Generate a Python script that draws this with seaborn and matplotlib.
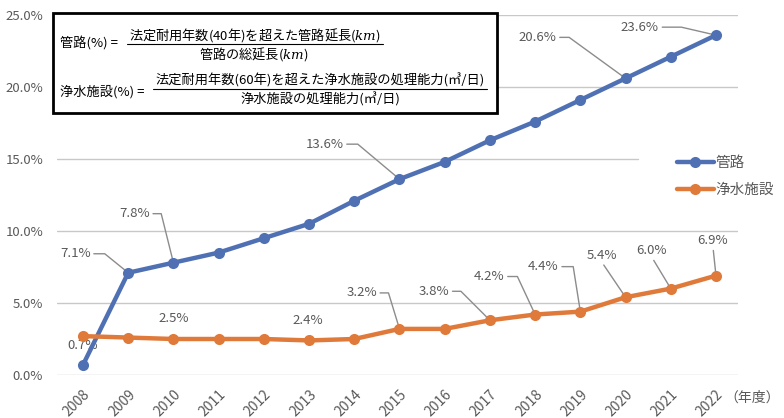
import numpy as np
import pandas as pd
import matplotlib.pyplot as plt
import seaborn as sns
from matplotlib.patches import Rectangle
from matplotlib.lines import Line2D

years = list(range(2008, 2023))
pipe = [0.7, 7.1, 7.8, 8.5, 9.5, 10.5, 12.1, 13.6, 14.8, 16.3, 17.6, 19.1, 20.6, 22.1, 23.6]
plant = [2.7, 2.6, 2.5, 2.5, 2.5, 2.4, 2.5, 3.2, 3.2, 3.8, 4.2, 4.4, 5.4, 6.0, 6.9]
series_names = ['管路', '浄水施設']
y_ticks = [0, 5, 10, 15, 20, 25]

# label placement: year -> (dx px, dy px, leader)  leader: None / angle of diagonal / 'v'
pipe_labels = {2008: (0, 19, None), 2009: (-53, 19, 141), 2010: (-39, 49, 104),
               2015: (-75, 35, 140), 2020: (-88, 41, 144), 2022: (-76, 8, 167)}
plant_labels = {2010: (0, 20, None), 2013: (-1, 20, None), 2015: (-38, 36, 107),
                2017: (-56, 29, 135), 2018: (-46, 38, 115), 2019: (-37, 45, 99),
                2020: (-24, 42, 'v'), 2021: (-19, 38, 'v'), 2022: (-3, 35, 'v')}

colors = {'管路': '#4F71B4', '浄水施設': '#E07A3A'}
gray = '#595959'
grid_c = '#C8C8C8'

sns.set_style('white')
plt.rcParams['font.family'] = ['Noto Sans CJK JP', 'DejaVu Sans']
plt.rcParams['mathtext.fontset'] = 'dejavuserif'

df = pd.DataFrame({'年度': years * 2,
                   '割合': pipe + plant,
                   '区分': [series_names[0]] * len(years) + [series_names[1]] * len(years)})

fig = plt.figure(figsize=(7.84, 4.18), dpi=100)
ax = fig.add_axes([57 / 784, 1 - 375 / 418, 681 / 784, 360 / 418])

# gridlines (15% line is cut short behind the legend)
for t in y_ticks:
    ax.axhline(t, xmax=0.853 if t == 15 else 1, color=grid_c, lw=1, zorder=0)

sns.lineplot(data=df, x='年度', y='割合', hue='区分', hue_order=series_names,
             palette=colors, marker='o', markersize=8, markeredgewidth=0,
             linewidth=3.2, legend=False, ax=ax, zorder=3)

ax.set_xlim(2007.425, 2022.487)
ax.set_ylim(0, 25)
ax.set_xticks(years)
ax.set_xticklabels([str(y) for y in years], rotation=45, ha='right',
                   rotation_mode='anchor', color=gray, fontsize=10)
ax.set_yticks(y_ticks)
ax.set_yticklabels([f'{t:.1f}%' for t in y_ticks], color=gray, fontsize=9.5)
ax.tick_params(axis='y', length=0, pad=10)
ax.tick_params(axis='x', length=0, pad=9)
ax.set_xlabel('')
ax.set_ylabel('')
for s in ax.spines.values():
    s.set_visible(False)


def add_labels(values, labels):
    for yr, (dx, dy, lead) in labels.items():
        v = values[years.index(yr)]
        arrow = None
        if lead == 'v':
            arrow = dict(arrowstyle='-', color='#8C8C8C', lw=1, relpos=(0.5, 0),
                         shrinkA=0, shrinkB=1)
        elif lead is not None:
            arrow = dict(arrowstyle='-', color='#8C8C8C', lw=1, relpos=(1, 0.5),
                         connectionstyle=f'angle,angleA=0,angleB={lead},rad=0',
                         shrinkA=0, shrinkB=1)
        ax.annotate(f'{v:.1f}%', xy=(yr, v), xytext=(dx, dy), textcoords='offset pixels',
                    ha='center', va='center', fontsize=9.5, color=gray,
                    arrowprops=arrow, zorder=2)


add_labels(pipe, pipe_labels)
add_labels(plant, plant_labels)

handles = [Line2D([], [], color=colors[n], lw=3.2, marker='o', markersize=8,
                  markeredgewidth=0) for n in series_names]
leg = fig.legend(handles, series_names, loc='upper left', bbox_to_anchor=(664 / 784, 1 - 143 / 418),
                 frameon=False, fontsize=10.5, handlelength=2.5, handletextpad=0.1,
                 labelspacing=0.9, labelcolor=gray)

fig.text(752 / 784, 1 - 398 / 418, '（年度）', ha='center', va='center', fontsize=10, color=gray)

# formula box
fig.add_artist(Rectangle((53 / 784, 1 - 113 / 418), 444 / 784, 100 / 418,
                         transform=fig.transFigure, facecolor='white',
                         edgecolor='black', lw=2, zorder=10))


def fx(x):
    return x / 784


def fy(y):
    return 1 - y / 418


kw = dict(fontsize=9.5, color='black', va='center', zorder=11)
fig.text(fx(60), fy(44), '管路(%) =', ha='left', **kw)
fig.text(fx(255), fy(35), '法定耐用年数(40年)を超えた管路延長($km$)', ha='center', **kw)
fig.add_artist(Line2D([fx(127), fx(383)], [fy(44), fy(44)], transform=fig.transFigure,
                      color='black', lw=0.8, zorder=11))
fig.text(fx(254), fy(54), '管路の総延長($km$)', ha='center', **kw)

fig.text(fx(60), fy(92), '浄水施設(%) =', ha='left', **kw)
fig.text(fx(320), fy(80), '法定耐用年数(60年)を超えた浄水施設の処理能力(㎥/日)', ha='center', **kw)
fig.add_artist(Line2D([fx(153), fx(487)], [fy(89), fy(89)], transform=fig.transFigure,
                      color='black', lw=0.8, zorder=11))
fig.text(fx(320), fy(99), '浄水施設の処理能力(㎥/日)', ha='center', **kw)

fig.savefig('out.png', dpi=100, facecolor='white')
